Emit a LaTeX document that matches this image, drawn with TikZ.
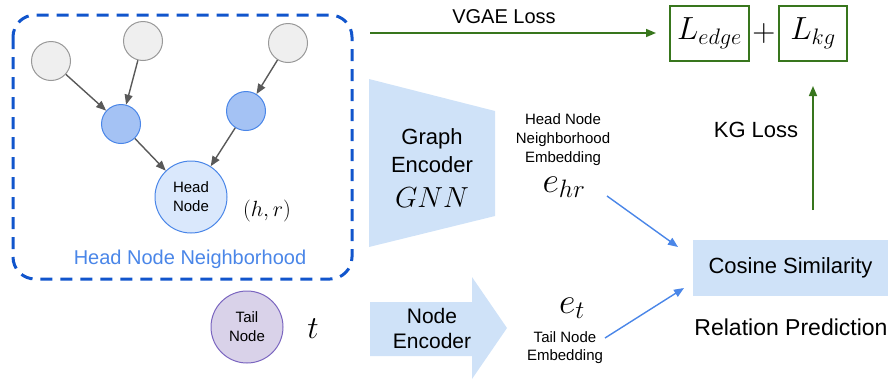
\RequirePackage{fix-cm}
\documentclass[tikz,border=0pt]{standalone}
\usepackage{fontspec}
\setmainfont{Liberation Sans}
\usetikzlibrary{arrows.meta}
\definecolor{dkblue}{HTML}{1155CC}
\definecolor{cblue}{HTML}{4A86E8}
\definecolor{midblue}{HTML}{A4C2F4}
\definecolor{paleblue}{HTML}{DAE8FC}
\definecolor{encblue}{HTML}{CFE2F8}
\definecolor{ggray}{HTML}{EFEFEF}
\definecolor{gline}{HTML}{999999}
\definecolor{darr}{HTML}{595959}
\definecolor{gpurple}{HTML}{D9D2E9}
\definecolor{lpurple}{HTML}{7B66C0}
\definecolor{dgreen}{HTML}{38761D}
\newcommand{\fsz}[1]{\fontsize{#1}{#1}\selectfont}
\tikzset{
  graycirc/.style={circle, draw=gline, fill=ggray, line width=1pt, minimum size=39pt, inner sep=0pt},
  bluecirc/.style={circle, draw=cblue, fill=midblue, line width=1pt, minimum size=39pt, inner sep=0pt},
  bigcirc/.style={circle, line width=1pt, minimum size=72pt, inner sep=0pt, align=center, font=\fontsize{15}{19}\selectfont},
  garrow/.style={draw=darr, line width=1.4pt, -{Triangle[length=10pt,width=8pt]}},
  barrow/.style={draw=cblue, line width=1.4pt, -{Triangle[length=10pt,width=8pt]}},
  grarrow/.style={draw=dgreen, line width=1.6pt, -{Triangle[length=10pt,width=8pt]}},
  lossbox/.style={draw=dgreen, line width=1.6pt, minimum height=55pt, inner sep=0pt},
  lbl/.style={inner sep=0pt, anchor=base},
}
\begin{document}
\begin{tikzpicture}[x=1pt,y=-1pt]
\useasboundingbox (0,0) rectangle (893,381);
% neighborhood box
\draw[dkblue, line width=3pt, dash pattern=on 12pt off 8pt, rounded corners=22pt] (13,15) rectangle (352,279);
% graph nodes
\node[graycirc] (g1) at (51,61) {};
\node[graycirc] (g2) at (143,41) {};
\node[graycirc] (g3) at (288,43) {};
\node[bluecirc] (b1) at (121,124) {};
\node[bluecirc] (b2) at (246,111) {};
\node[bigcirc, draw=cblue, fill=paleblue] (head) at (191,197) {Head\\Node};
\draw[garrow] (g1) -- (b1);
\draw[garrow] (g2) -- (b1);
\draw[garrow] (g3) -- (b2);
\draw[garrow] (b1) -- (head);
\draw[garrow] (b2) -- (head);
\node[lbl, font=\fsz{22}] (hr) at (267,216) {$(h,r)$};
\node[lbl, font=\fsz{20}, text=cblue] (nbh) at (190,264) {Head Node Neighborhood};
% tail node
\node[bigcirc, draw=lpurple, fill=gpurple] (tail) at (247,327) {Tail\\Node};
\node[lbl, font=\fsz{32}] (tt) at (313,338) {$t$};
% graph encoder
\fill[encblue] (369,79) -- (495,111) -- (495,216) -- (369,247) -- cycle;
\node[lbl, font=\fsz{22}] (ge1) at (432,144) {Graph};
\node[lbl, font=\fsz{22}] (ge2) at (432,172) {Encoder};
\node[lbl, font=\fsz{29}] (ge3) at (432,207) {$GNN$};
% node encoder
\fill[encblue] (370,302) -- (472,302) -- (472,277) -- (507,328) -- (472,379) -- (472,356) -- (370,356) -- cycle;
\node[lbl, font=\fsz{21}] (ne1) at (432,323) {Node};
\node[lbl, font=\fsz{21}] (ne2) at (432,348) {Encoder};
% embeddings
\node[lbl, font=\fsz{15}] (he1) at (563,124) {Head Node};
\node[lbl, font=\fsz{15}] (he2) at (563,143) {Neighborhood};
\node[lbl, font=\fsz{15}] (he3) at (563,162) {Embedding};
\node[lbl, font=\fsz{36}, text height=16pt] (ehr) at (564,192) {$e_{hr}$};
\node[lbl, font=\fsz{36}] (et) at (572,313) {$e_t$};
\node[lbl, font=\fsz{15}] (te1) at (565,342) {Tail Node};
\node[lbl, font=\fsz{15}] (te2) at (565,360) {Embedding};
% cosine similarity
\node[fill=encblue, minimum width=195pt, minimum height=56pt, inner sep=0pt, font=\fsz{22}] (cos) at (790.5,268) {Cosine Similarity};
\node[lbl, font=\fsz{23}] (rp) at (791,335) {Relation Prediction};
\coordinate (a1s) at (607,196);
\coordinate (a1e) at (678,247);
\coordinate (a2s) at (605,338);
\coordinate (a2e) at (684,288);
\draw[barrow] (a1s) -- (a1e);
\draw[barrow] (a2s) -- (a2e);
% losses
\node[lossbox, minimum width=79pt] (le) at (709.5,33.5) {};
\node[font=\fsz{32}, inner sep=0pt] at (le) {$L_{edge}$};
\node[font=\fsz{32}, inner sep=0pt] (plus) at (764,33) {$+$};
\node[lossbox, minimum width=68pt] (lk) at (813,33.5) {};
\node[font=\fsz{32}, inner sep=0pt] at (lk) {$L_{kg}$};
\coordinate (vs) at (370,33);
\coordinate (ve) at (656,33);
\draw[grarrow] (vs) -- (ve);
\node[lbl, font=\fsz{20}] (vg) at (504,23) {VGAE Loss};
\coordinate (ks) at (813,210);
\coordinate (ke) at (813,86);
\draw[grarrow] (ks) -- (ke);
\node[lbl, font=\fsz{22}] (kg) at (756,137) {KG Loss};
\end{tikzpicture}
\end{document}
